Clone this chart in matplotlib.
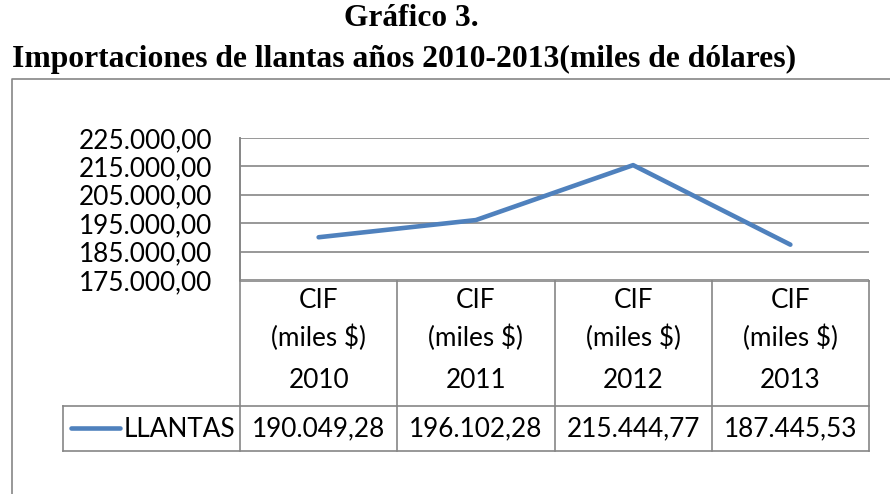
import matplotlib
matplotlib.use("Agg")
import matplotlib.pyplot as plt
from matplotlib.lines import Line2D

# ---- data ----
years = ["2010", "2011", "2012", "2013"]
header_top = "CIF"
header_mid = "(miles $)"
series_name = "LLANTAS"
values = [190049.28, 196102.28, 215444.77, 187445.53]
yticks = [175000, 185000, 195000, 205000, 215000, 225000]
title1 = "Gráfico 3."
title2 = "Importaciones de llantas años 2010-2013(miles de dólares)"

W, H = 890, 494
GRID = "#868686"
BLUE = "#4F81BD"
TFONT = "Lato"
TSIZE = 18.8


def es_fmt(v, dec=2):
    s = f"{v:,.{dec}f}"
    return s.replace(",", "X").replace(".", ",").replace("X", ".")


fig = plt.figure(figsize=(W / 100, H / 100), dpi=100)

def fy(y):
    return 1 - y / H

# overlay in pixel coords
ov = fig.add_axes([0, 0, 1, 1])
ov.set_xlim(0, W)
ov.set_ylim(H, 0)
ov.axis("off")

# chart border
ov.add_line(Line2D([12, 12, W], [H, 79, 79], color=GRID, lw=1.2))

# titles
ov.text(411, 19, title1, ha="center", va="center", fontsize=22.6,
        fontweight="bold", family="Liberation Serif")
ov.text(404, 59, title2, ha="center", va="center", fontsize=22.8,
        fontweight="bold", family="Liberation Serif")

# main plot axes
px_l, px_r, px_t, px_b = 240, 869, 138, 280
ax = fig.add_axes([px_l / W, fy(px_b), (px_r - px_l) / W, (px_b - px_t) / H])
n = len(years)
x = list(range(n))
ax.set_xlim(-0.5, n - 0.5)
ax.set_ylim(yticks[0], yticks[-1])
ax.set_yticks(yticks)
ax.set_yticklabels([es_fmt(t) for t in yticks], family=TFONT, fontsize=TSIZE)
ax.tick_params(axis="y", length=0, pad=20)
ax.set_xticks([])
for s in ["top", "right", "bottom"]:
    ax.spines[s].set_visible(False)
ax.spines["left"].set_color(GRID)
ax.spines["left"].set_linewidth(1.2)
ax.set_facecolor("none")
ax.grid(axis="y", color=GRID, lw=1.2)
ax.set_axisbelow(True)
ax.plot(x, values, color=BLUE, lw=3.3, solid_capstyle="round", zorder=3)

# data table in axes-blended coords
ah = px_b - px_t
def ay(ypix):
    return (px_b - ypix) / ah

tr = ax.get_xaxis_transform()
kw = dict(color=GRID, lw=1.2, transform=tr, clip_on=False)
y_top = ay(281)
y_bot = ay(451)
ax.add_line(Line2D([-0.5, n - 0.5], [y_top, y_top], **kw))
for i in range(n + 1):
    xb = i - 0.5
    ax.add_line(Line2D([xb, xb], [y_top if i else 1.0, y_bot], **kw))
for i, yr in enumerate(years):
    ax.text(i, ay(300), header_top, transform=tr, ha="center", va="center",
            family=TFONT, fontsize=TSIZE)
    ax.text(i, ay(338), header_mid, transform=tr, ha="center", va="center",
            family=TFONT, fontsize=TSIZE)
    ax.text(i, ay(381), yr, transform=tr, ha="center", va="center",
            family=TFONT, fontsize=TSIZE)
    ax.text(i, ay(429), es_fmt(values[i]), transform=tr, ha="center",
            va="center", family=TFONT, fontsize=TSIZE)

# legend cell + row lines in pixel overlay
ov.add_line(Line2D([63, px_r], [406, 406], color=GRID, lw=1.2))
ov.add_line(Line2D([63, px_r], [451, 451], color=GRID, lw=1.2))
ov.add_line(Line2D([63, 63], [406, 451], color=GRID, lw=1.2))
ov.add_line(Line2D([71, 120], [428, 428], color=BLUE, lw=3.3, solid_capstyle="round"))
ov.text(235, 429, series_name, ha="right", va="center", family=TFONT, fontsize=TSIZE)

fig.savefig("out.png", dpi=100)
